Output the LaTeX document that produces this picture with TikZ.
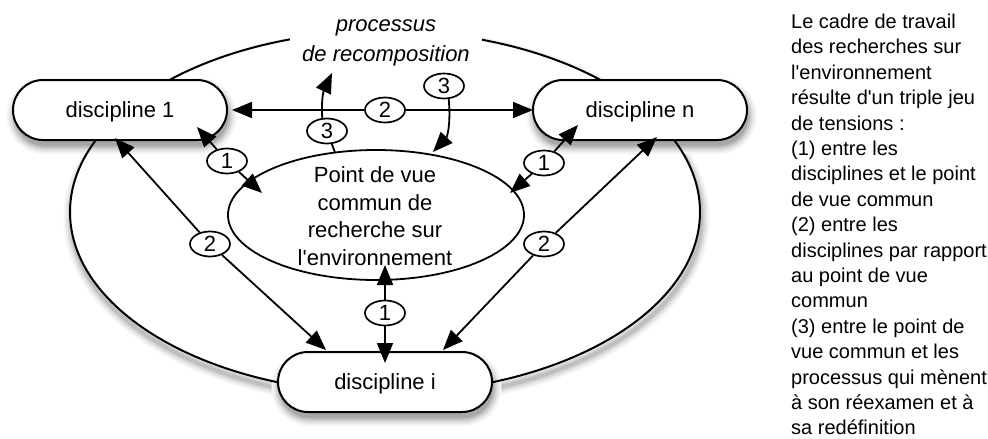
\documentclass[tikz,border=0pt]{standalone}
\usepackage{fontspec}
\setmainfont{Liberation Sans}[Ligatures=TeXOff]
\usetikzlibrary{arrows.meta,shapes.geometric,shapes.misc}
\definecolor{sh1}{gray}{0.96}
\definecolor{sh2}{gray}{0.91}
\definecolor{sh3}{gray}{0.84}
\definecolor{sh4}{gray}{0.75}
\definecolor{sh5}{gray}{0.66}
\tikzset{
  >={Triangle[length=20pt,width=16pt]},
  discshape/.style={rounded rectangle,minimum width=214pt,minimum height=60pt,inner sep=0pt},
  disc/.style={discshape,draw,line width=2pt,fill=white,text depth=0pt,
    font=\fontsize{22}{26}\selectfont},
  lab/.style={ellipse,draw,line width=1.7pt,fill=white,minimum width=40pt,
    minimum height=25pt,inner sep=0pt,font=\fontsize{22}{26}\selectfont},
  conn/.style={line width=1.8pt},
}
\begin{document}
\begin{tikzpicture}[x=1pt,y=-1pt]
\useasboundingbox (0,0) rectangle (988,439);
% shadow of the outer frame
\draw[sh1,line width=16pt] (386.5,218) ellipse [x radius=315pt,y radius=181pt];
\draw[sh2,line width=12pt] (386.5,218) ellipse [x radius=315pt,y radius=181pt];
\draw[sh3,line width=8pt] (386.5,218) ellipse [x radius=315pt,y radius=181pt];
\draw[sh4,line width=4pt] (386.5,218) ellipse [x radius=315pt,y radius=181pt];
% outer frame
\fill[white] (385,212) ellipse [x radius=315pt,y radius=181pt];
% shadows of the discipline boxes
\foreach \cx/\cy in {121.5/116, 641.5/116, 386.5/388}{
  \draw[sh1,line width=16pt,rounded corners=30pt] (\cx-107,\cy-30) rectangle (\cx+107,\cy+30);
  \draw[sh2,line width=12pt,rounded corners=30pt] (\cx-107,\cy-30) rectangle (\cx+107,\cy+30);
  \draw[sh3,line width=8pt,rounded corners=30pt] (\cx-107,\cy-30) rectangle (\cx+107,\cy+30);
  \draw[sh4,line width=4pt,rounded corners=30pt] (\cx-107,\cy-30) rectangle (\cx+107,\cy+30);
  \fill[sh5,rounded corners=30pt] (\cx-107,\cy-30) rectangle (\cx+107,\cy+30);
}
\node[ellipse,draw,line width=2pt,minimum width=630pt,minimum height=362pt,inner sep=0pt]
  (big) at (385,212) {};
\node[fill=white,inner xsep=12pt,inner ysep=3pt,anchor=north,align=center,
  font=\fontsize{22}{30}\selectfont\itshape] (proc) at (386,12.5)
  {\vphantom{d}processus\\de recomposition};
% disciplines
\node[disc] (d1) at (120,110) {discipline 1};
\node[disc] (dn) at (640,110) {discipline n};
\node[disc] (di) at (385,382) {discipline i};
% common point of view
\node[ellipse,draw,line width=1.8pt,fill=white,minimum width=296pt,minimum height=130pt,
  inner sep=0pt] (pv) at (376,215) {};
\node[anchor=north,inner sep=0pt,align=center,font=\fontsize{22}{27.7}\selectfont]
  (pvtext) at (375,166.3) {Point de vue\\commun de\\recherche sur\\l'environnement};
% arrow end points
\coordinate (t1a) at (197,127);
\coordinate (t1b) at (262,193);
\coordinate (t1c) at (578,125);
\coordinate (t1d) at (510,193);
\coordinate (t1e) at (385,265);
\coordinate (t1f) at (385,363);
\coordinate (t2a) at (232,110);
\coordinate (t2b) at (533,110);
\coordinate (t2c) at (115,138);
\coordinate (t2d) at (326,350);
\coordinate (t2e) at (657,137);
\coordinate (t2f) at (443,350);
\coordinate (t3a) at (332,73);
\coordinate (t3b) at (433,152);
\coordinate (t3c) at (335,152.5);
% labels
\node[lab] (l1a) at (227,161) {1};
\node[lab] (l1b) at (544,163) {1};
\node[lab] (l1c) at (385,313) {1};
\node[lab] (l2a) at (385,110) {2};
\node[lab] (l2b) at (210,244) {2};
\node[lab] (l2c) at (544,244) {2};
\node[lab] (l3a) at (327,131) {3};
\node[lab] (l3b) at (444,86) {3};
% connectors
\draw[conn,->] (l1a) -- (t1a);
\draw[conn,->] (l1a) -- (t1b);
\draw[conn,->] (l1b) -- (t1c);
\draw[conn,->] (l1b) -- (t1d);
\draw[conn,->] (l1c) -- (t1e);
\draw[conn,->] (l1c) -- (t1f);
\draw[conn,->] (l2a) -- (t2a);
\draw[conn,->] (l2a) -- (t2b);
\draw[conn,->] (l2b) -- (t2c);
\draw[conn,->] (l2b) -- (t2d);
\draw[conn,->] (l2c) -- (t2e);
\draw[conn,->] (l2c) -- (t2f);
\draw[conn] (l3a) -- (t3c);
\draw[conn,->] (l3a.110) .. controls (321,98) and (324,90) .. (t3a);
\draw[conn,->] (l3b.-70) .. controls (451,125) and (447,137) .. (t3b);
% explanation
\node[anchor=north west,inner sep=0pt,align=left,font=\fontsize{20}{25.4}\selectfont]
  (expl) at (791,13.8) {Le cadre de travail\\des recherches sur\\l'environnement\\
  résulte d'un triple jeu\\de tensions :\\(1) entre les\\disciplines et le point\\
  de vue commun\\(2) entre les\\disciplines par rapport\\au point de vue\\commun\\
  (3) entre le point de\\vue commun et les\\processus qui mènent\\à son réexamen et à\\
  sa redéfinition};
\end{tikzpicture}
\end{document}
